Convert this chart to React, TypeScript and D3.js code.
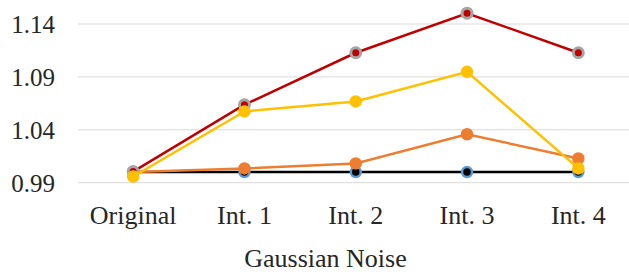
import React, { useEffect, useRef } from 'react';
import * as d3 from 'd3';

// categories along the x axis
const categories = ['Original', 'Int. 1', 'Int. 2', 'Int. 3', 'Int. 4'];

// y axis tick labels
const yTicks = [0.99, 1.04, 1.09, 1.14];

// series values
const baselineValues = [1.0, 1.0, 1.0, 1.0, 1.0];
const orangeValues = [1.0, 1.0035, 1.0082, 1.0358, 1.0129];
const redValues = [1.0005, 1.0637, 1.1128, 1.1502, 1.1128];
const yellowValues = [0.9959, 1.0574, 1.0668, 1.0948, 1.0035];

const axisTitle = 'Gaussian Noise';

const WIDTH = 629;
const HEIGHT = 275;

export default function App() {
  const svgRef = useRef<SVGSVGElement | null>(null);

  useEffect(() => {
    const svg = d3.select(svgRef.current);
    svg.selectAll('*').remove();

    const x = d3.scaleBand<string>()
      .domain(categories)
      .range([77.5, 634]);

    const y = d3.scaleLinear()
      .domain([0.99, 1.14])
      .range([182.7, 24]);

    // gridlines
    svg.append('g')
      .selectAll('line')
      .data(yTicks)
      .join('line')
      .attr('x1', 78)
      .attr('x2', WIDTH)
      .attr('y1', d => y(d))
      .attr('y2', d => y(d))
      .attr('stroke', '#D9D9D9')
      .attr('stroke-width', 1);

    // y tick labels
    svg.append('g')
      .selectAll('text')
      .data(yTicks)
      .join('text')
      .attr('x', 55)
      .attr('y', d => y(d) + 9)
      .attr('text-anchor', 'end')
      .attr('font-size', 25)
      .attr('fill', '#262626')
      .text(d => d.toFixed(2));

    // category labels
    svg.append('g')
      .selectAll('text')
      .data(categories)
      .join('text')
      .attr('x', d => (x(d) as number) + x.bandwidth() / 2)
      .attr('y', 224)
      .attr('text-anchor', 'middle')
      .attr('font-size', 26)
      .attr('fill', '#262626')
      .text(d => d);

    // axis title
    svg.append('text')
      .attr('x', 325.5)
      .attr('y', 266.5)
      .attr('text-anchor', 'middle')
      .attr('font-size', 26)
      .attr('fill', '#262626')
      .text(axisTitle);

    const cx = (i: number) => (x(categories[i]) as number) + x.bandwidth() / 2;

    const series = [
      { values: baselineValues, line: '#000000', fill: '#000000', stroke: '#5B9BD5', r: 5, sw: 2.5, lw: 2.5 },
      { values: orangeValues, line: '#ED7D31', fill: '#ED7D31', stroke: '#ED7D31', r: 5.5, sw: 1.5, lw: 2.5 },
      { values: redValues, line: '#C00000', fill: '#C00000', stroke: '#A5A5A5', r: 5, sw: 3, lw: 2.5 },
      { values: yellowValues, line: '#FFC000', fill: '#FFC000', stroke: '#FFC000', r: 5.5, sw: 1.5, lw: 2.5 },
    ];

    const lineGen = d3.line<number>()
      .x((_, i) => cx(i))
      .y(d => y(d));

    series.forEach(s => {
      const g = svg.append('g');
      g.append('path')
        .datum(s.values)
        .attr('d', lineGen)
        .attr('fill', 'none')
        .attr('stroke', s.line)
        .attr('stroke-width', s.lw);
      g.selectAll('circle')
        .data(s.values)
        .join('circle')
        .attr('cx', (_, i) => cx(i))
        .attr('cy', d => y(d))
        .attr('r', s.r)
        .attr('fill', s.fill)
        .attr('stroke', s.stroke)
        .attr('stroke-width', s.sw);
    });
  }, []);

  return (
    <svg
      ref={svgRef}
      width={WIDTH}
      height={HEIGHT}
      fontFamily="'Liberation Serif', serif"
      style={{ position: 'absolute', left: 0, top: 0, background: '#fff' }}
    />
  );
}
